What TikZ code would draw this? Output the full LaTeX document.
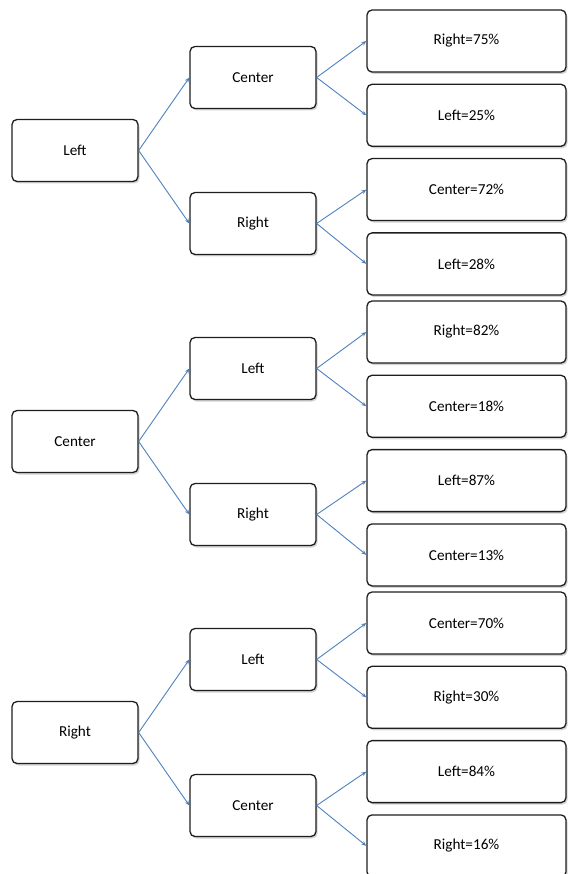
\documentclass[tikz,border=0pt]{standalone}
\usepackage{fontspec}
\setmainfont{Carlito}
\usetikzlibrary{arrows.meta, positioning, shadows}
\definecolor{linkblue}{RGB}{79, 129, 189}
\definecolor{boxedge}{RGB}{30, 30, 30}

\begin{document}
\begin{tikzpicture}[
        x=1pt, y=-1pt,
        node distance=11pt,
        box/.style={rectangle, draw=boxedge, fill=white, line width=1.3pt, rounded corners=5pt, minimum height=62pt, align=center, font=\fontsize{15.2}{18}\selectfont, drop shadow={shadow xshift=1.5pt, shadow yshift=-2pt, opacity=0.35}},
        choice/.style={box, minimum width=126pt},
        outcome/.style={box, minimum width=199pt},
        link/.style={-{Stealth[length=5pt, width=4pt]}, draw=linkblue, line width=0.9pt}
    ]
        \useasboundingbox (0,0) rectangle (567,874);

        % first guess: Left
        \node[choice] (left) at (75,150.5) {Left};
        \node[choice] (leftC) at (253,77.5) {Center};
        \node[choice] (leftR) at (253,223.5) {Right};
        \node[outcome] (leftCR) at (466.5,41) {Right=75\%};
        \node[outcome, below=of leftCR] (leftCL) {Left=25\%};
        \node[outcome, below=of leftCL] (leftRC) {Center=72\%};
        \node[outcome, below=of leftRC] (leftRL) {Left=28\%};

        % first guess: Center
        \node[choice] (center) at (75,441.5) {Center};
        \node[choice] (centerL) at (253,368.5) {Left};
        \node[choice] (centerR) at (253,514.5) {Right};
        \node[outcome] (centerLR) at (466.5,332) {Right=82\%};
        \node[outcome, below=of centerLR] (centerLC) {Center=18\%};
        \node[outcome, below=of centerLC] (centerRL) {Left=87\%};
        \node[outcome, below=of centerRL] (centerRC) {Center=13\%};

        % first guess: Right
        \node[choice] (right) at (75,732.5) {Right};
        \node[choice] (rightL) at (253,659.5) {Left};
        \node[choice] (rightC) at (253,805.5) {Center};
        \node[outcome] (rightLC) at (466.5,623) {Center=70\%};
        \node[outcome, below=of rightLC] (rightLR) {Right=30\%};
        \node[outcome, below=of rightLR] (rightCL) {Left=84\%};
        \node[outcome, below=of rightCL] (rightCR) {Right=16\%};

        \draw[link] (left.east) -- (leftC.west);
        \draw[link] (left.east) -- (leftR.west);
        \draw[link] (leftC.east) -- (leftCR.west);
        \draw[link] (leftC.east) -- (leftCL.west);
        \draw[link] (leftR.east) -- (leftRC.west);
        \draw[link] (leftR.east) -- (leftRL.west);

        \draw[link] (center.east) -- (centerL.west);
        \draw[link] (center.east) -- (centerR.west);
        \draw[link] (centerL.east) -- (centerLR.west);
        \draw[link] (centerL.east) -- (centerLC.west);
        \draw[link] (centerR.east) -- (centerRL.west);
        \draw[link] (centerR.east) -- (centerRC.west);

        \draw[link] (right.east) -- (rightL.west);
        \draw[link] (right.east) -- (rightC.west);
        \draw[link] (rightL.east) -- (rightLC.west);
        \draw[link] (rightL.east) -- (rightLR.west);
        \draw[link] (rightC.east) -- (rightCL.west);
        \draw[link] (rightC.east) -- (rightCR.west);
    \end{tikzpicture}
\end{document}
